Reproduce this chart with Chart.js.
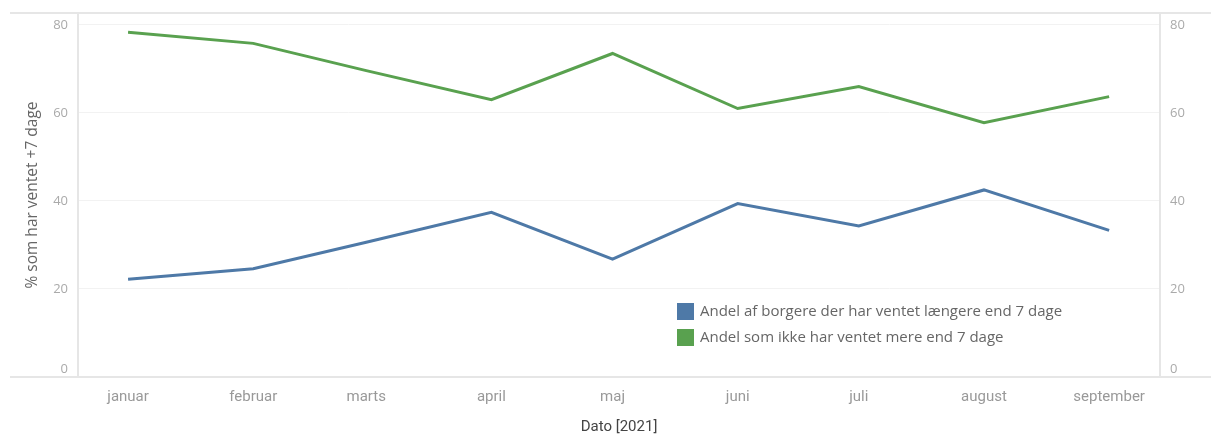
<!DOCTYPE html>
<html>
<head>
<meta charset="utf-8">
<script src="https://cdn.jsdelivr.net/npm/chart.js@4"></script>
<style>
  html, body { margin: 0; padding: 0; background: #fff; }
  #wrap { position: relative; width: 1211px; height: 437px; }
</style>
</head>
<body>
<div id="wrap"><canvas id="myChart" width="1211" height="437"></canvas></div>
<script>
// data
const months = ['januar', 'februar', 'marts', 'april', 'maj', 'juni', 'juli', 'august', 'september'];
// day of year for the 1st of each month (2021) - x axis is a date axis
const monthDays = [0, 31, 59, 90, 120, 151, 181, 212, 243];
const ventetOver7 = [22.2, 24.6, 30.6, 37.4, 26.8, 39.4, 34.3, 42.5, 33.3];
const ikkeOver7 = [78.3, 75.8, 69.6, 63.0, 73.5, 61.0, 66.0, 57.8, 63.7];
const yTicks = [0, 20, 40, 60, 80];

const seriesLabels = [
  'Andel af borgere der har ventet længere end 7 dage',
  'Andel som ikke har ventet mere end 7 dage',
];

const narrow = '"Roboto", sans-serif';
const plain = '"Open Sans", "DejaVu Sans", sans-serif';

const toPoints = (vals) => vals.map((v, i) => ({ x: monthDays[i], y: v }));

// 0 label sits a bit above the axis line, like in tableau
const yLabel = (v) => (v === 0 ? ['0', ''] : String(v));

// no extra room for the labels above/below the plot
const noPad = (axis) => {
  axis.paddingTop = 0;
  axis.paddingBottom = 0;
};

// tableau-like frame: lines across the whole width + legend inside the plot
const framePlugin = {
  id: 'frame',
  beforeDatasetsDraw(chart) {
    const { ctx, chartArea: a, width } = chart;
    ctx.save();
    ctx.strokeStyle = '#e6e6e6';
    ctx.lineWidth = 2;
    ctx.beginPath();
    ctx.moveTo(10, a.top); ctx.lineTo(width, a.top);
    ctx.moveTo(10, a.bottom); ctx.lineTo(width, a.bottom);
    ctx.moveTo(a.left, a.top); ctx.lineTo(a.left, a.bottom);
    ctx.moveTo(a.right, a.top); ctx.lineTo(a.right, a.bottom);
    ctx.stroke();
    ctx.restore();
  },
  afterDraw(chart) {
    const { ctx } = chart;
    ctx.save();
    ctx.font = '15px ' + plain;
    ctx.textBaseline = 'middle';
    chart.data.datasets.forEach((ds, i) => {
      const y = 303 + i * 26;
      ctx.fillStyle = ds.borderColor;
      ctx.fillRect(677, y, 17, 17);
      ctx.fillStyle = '#666';
      ctx.fillText(ds.label, 700, y + 9);
    });
    ctx.restore();
  },
};

const ctx = document.getElementById('myChart');
const chart = new Chart(ctx, {
  type: 'line',
  data: {
    datasets: [
      {
        label: seriesLabels[0],
        data: toPoints(ventetOver7),
        borderColor: '#4e79a7',
        backgroundColor: '#4e79a7',
        borderWidth: 3,
        pointRadius: 0,
        tension: 0,
      },
      {
        label: seriesLabels[1],
        data: toPoints(ikkeOver7),
        borderColor: '#59a14f',
        backgroundColor: '#59a14f',
        borderWidth: 3,
        pointRadius: 0,
        tension: 0,
      },
    ],
  },
  options: {
    responsive: false,
    animation: false,
    layout: { padding: { top: 13, left: 0, right: 0, bottom: 0 } },
    plugins: {
      legend: { display: false },
      tooltip: { enabled: false },
    },
    scales: {
      x: {
        type: 'linear',
        min: -12.4,
        max: 255.6,
        afterBuildTicks: (axis) => {
          axis.ticks = monthDays.map((d) => ({ value: d }));
        },
        afterFit: (axis) => { axis.height = 60; },
        ticks: {
          callback: (v) => months[monthDays.indexOf(v)],
          color: '#999',
          font: { family: narrow, size: 15 },
          padding: 11,
          maxRotation: 0,
          autoSkip: false,
        },
        grid: { drawOnChartArea: false, drawTicks: false },
        border: { display: false },
        title: {
          display: true,
          text: 'Dato [2021]',
          color: '#444',
          font: { family: narrow, size: 15 },
          padding: { top: 0, bottom: 1 },
        },
      },
      y: {
        position: 'left',
        min: 0,
        max: 82.7,
        afterBuildTicks: (axis) => {
          axis.ticks = yTicks.map((v) => ({ value: v }));
        },
        afterFit: (axis) => { axis.width = 78; noPad(axis); },
        ticks: { callback: yLabel, color: '#aaa', font: { family: plain, size: 13 }, padding: 10 },
        grid: { color: '#f2f2f2', drawTicks: false },
        border: { display: false },
        title: {
          display: true,
          text: '% som har ventet +7 dage',
          color: '#666',
          font: { family: plain, size: 15.5 },
          padding: { top: 23 },
        },
      },
      y2: {
        position: 'right',
        min: 0,
        max: 82.7,
        afterBuildTicks: (axis) => {
          axis.ticks = yTicks.map((v) => ({ value: v }));
        },
        afterFit: (axis) => { axis.width = 51; noPad(axis); },
        ticks: { callback: yLabel, color: '#aaa', font: { family: plain, size: 13 }, padding: 10 },
        grid: { drawOnChartArea: false, drawTicks: false },
        border: { display: false },
      },
    },
  },
  plugins: [framePlugin],
});
</script>
</body>
</html>
